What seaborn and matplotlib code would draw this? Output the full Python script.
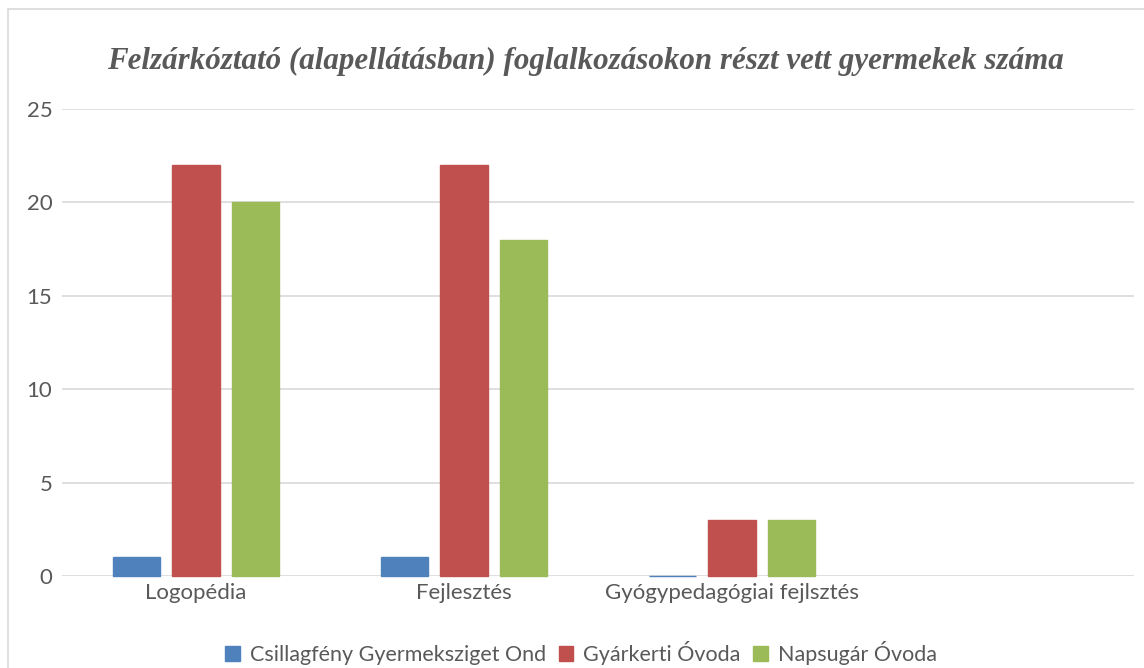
import matplotlib
matplotlib.use("Agg")
import matplotlib.pyplot as plt
import seaborn as sns
import pandas as pd
from matplotlib.patches import Rectangle, Patch

categories = ["Logopédia", "Fejlesztés", "Gyógypedagógiai fejlsztés"]
series_names = ["Csillagfény Gyermeksziget Ond", "Gyárkerti Óvoda", "Napsugár Óvoda"]
csillagfeny = [1, 1, 0]
gyarkerti = [22, 22, 3]
napsugar = [20, 18, 3]
y_ticks = [0, 5, 10, 15, 20, 25]
colors = ["#4F81BD", "#C0504D", "#9BBB59"]
title = "Felzárkóztató (alapellátásban) foglalkozásokon részt vett gyermekek száma"

rows = []
for name, vals in zip(series_names, [csillagfeny, gyarkerti, napsugar]):
    for c, v in zip(categories, vals):
        rows.append({"cat": c, "series": name, "value": v})
df = pd.DataFrame(rows)

sns.set_theme(style="white")
plt.rcParams['font.family'] = ['Lato', 'DejaVu Sans']

W, H = 1144, 668
fig = plt.figure(figsize=(W / 100, H / 100), dpi=100)
ax = fig.add_axes([62 / W, 92 / H, (1134 - 62) / W, (576 - 109) / H])

sns.barplot(data=df, x="cat", y="value", hue="series", order=categories,
            hue_order=series_names, palette=colors, width=0.666, gap=0.21,
            saturation=1, legend=False, ax=ax, errorbar=None)
for p in ax.patches:
    p.set_edgecolor(p.get_facecolor())
    p.set_linewidth(1.0)
    p.set_clip_on(False)
    p.set_zorder(3)

ax.set_xlim(-0.5, 3.5)
ax.set_ylim(0, 25)
ax.set_yticks(y_ticks)
ax.set_xticks([0, 1, 2])
ax.set_xticklabels(categories)
ax.grid(axis="y", color="#D9D9D9", linewidth=1.2)
ax.set_axisbelow(True)
for s in ax.spines.values():
    s.set_visible(False)
ax.tick_params(axis="both", length=0, labelsize=16, labelcolor="#595959")
ax.tick_params(axis="y", pad=7)
ax.tick_params(axis="x", pad=5)
ax.set_xlabel("")
ax.set_ylabel("")

fig.text(585 / W, 1 - 61 / H, title, ha="center", va="center",
         family="Liberation Serif", style="italic", weight="bold",
         fontsize=22.3, color="#595959")

handles = [Patch(facecolor=c, edgecolor=c) for c in colors]
fig.legend(handles, series_names, loc="center", bbox_to_anchor=(581 / W, 15 / H),
           ncol=3, frameon=False, fontsize=15.5, labelcolor="#595959",
           handlelength=0.68, handleheight=0.68, handletextpad=0.45, columnspacing=0.6)

fig.patches.append(Rectangle((7.5 / W, -0.1), 2, 1.1 - 8.5 / H,
                             transform=fig.transFigure, fill=False,
                             edgecolor="#D9D9D9", linewidth=1.2))

fig.savefig("out.png", dpi=100, facecolor="white")
